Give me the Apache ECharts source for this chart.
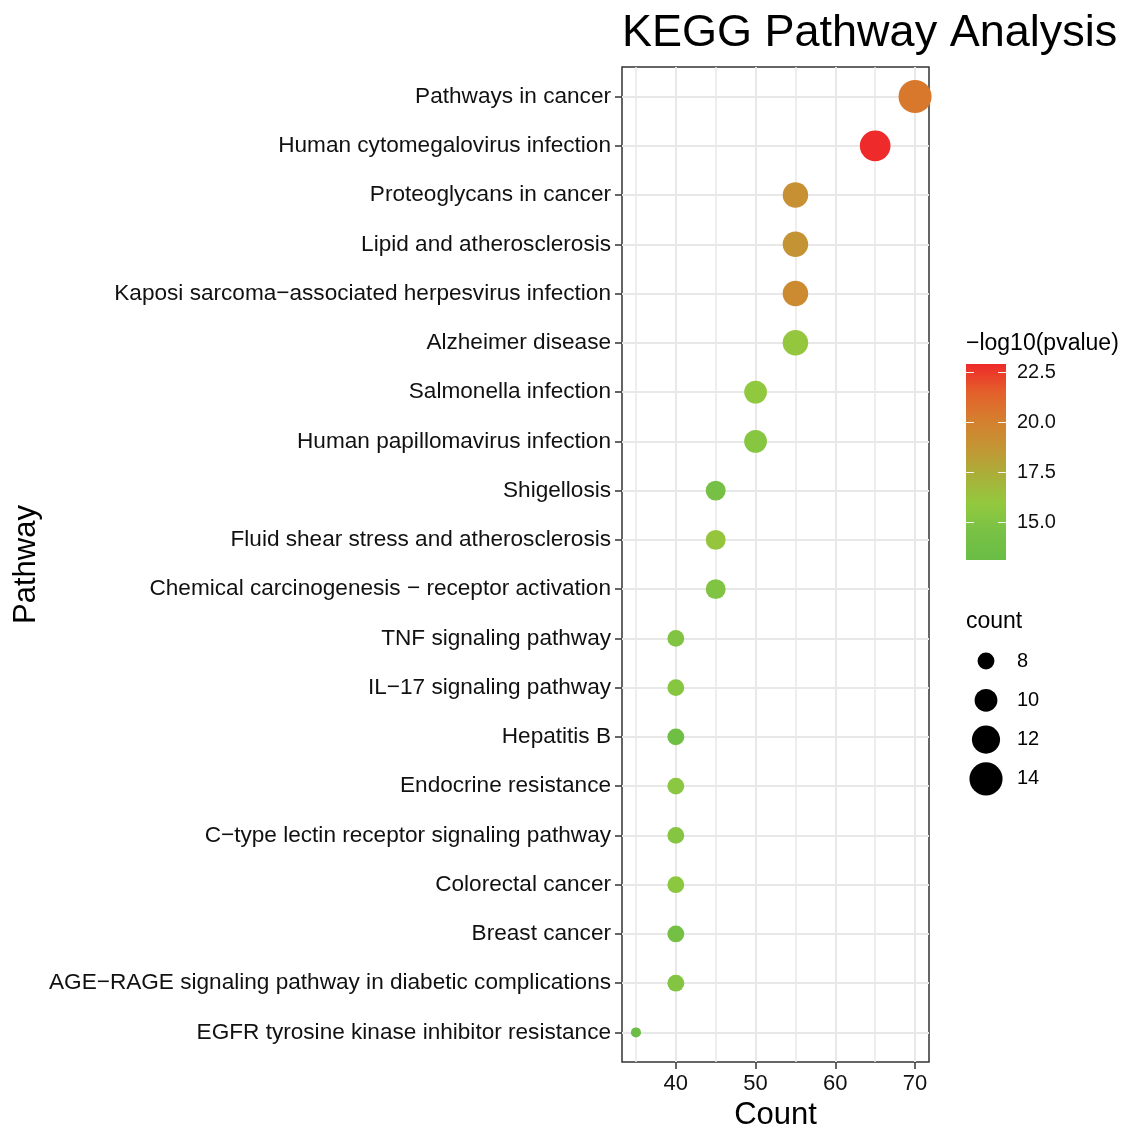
<!DOCTYPE html>
<html>
<head>
<meta charset="utf-8">
<title>KEGG Pathway Analysis</title>
<script src="https://cdn.jsdelivr.net/npm/echarts@6/dist/echarts.min.js"></script>
<style>
  html, body { margin: 0; padding: 0; background: #fff; }
  #chart { width: 1124px; height: 1128px; }
</style>
</head>
<body>
<div id="chart"></div>
<script>
// pathways, top row first
var pathways = [
  'Pathways in cancer',
  'Human cytomegalovirus infection',
  'Proteoglycans in cancer',
  'Lipid and atherosclerosis',
  'Kaposi sarcoma\u2212associated herpesvirus infection',
  'Alzheimer disease',
  'Salmonella infection',
  'Human papillomavirus infection',
  'Shigellosis',
  'Fluid shear stress and atherosclerosis',
  'Chemical carcinogenesis \u2212 receptor activation',
  'TNF signaling pathway',
  'IL\u221217 signaling pathway',
  'Hepatitis B',
  'Endocrine resistance',
  'C\u2212type lectin receptor signaling pathway',
  'Colorectal cancer',
  'Breast cancer',
  'AGE\u2212RAGE signaling pathway in diabetic complications',
  'EGFR tyrosine kinase inhibitor resistance'
];
// x axis "Count"
var counts = [70, 65, 55, 55, 55, 55, 50, 50, 45, 45, 45, 40, 40, 40, 40, 40, 40, 40, 40, 35];
// point size "count"
var geneNum = [14, 13, 11, 11, 11, 11, 10, 10, 9, 9, 9, 8, 8, 8, 8, 8, 8, 8, 8, 6];
// colour -log10(pvalue)
var logP = [20.4, 22.9, 19.0, 18.8, 19.4, 16.0, 15.8, 15.3, 14.2, 16.1, 15.0,
            15.0, 15.3, 13.7, 15.5, 15.2, 15.6, 14.1, 15.1, 13.2];

var countTicks = [40, 50, 60, 70];
var countMinor = [35, 45, 55, 65];
var pTicks = [15, 17.5, 20, 22.5];
var sizeTicks = [8, 10, 12, 14];

var pMin = 13.1, pMax = 22.9;
var palette = ['#6abd45', '#78c145', '#92c93e', '#a9b03a', '#c39634', '#d57f2e', '#e45f2b', '#ee2a2a'];
var FONT = '"Liberation Sans", Arial, Helvetica, sans-serif';

function dotSize(n) {
  return 17.8 * Math.sqrt(n) - 33.5;
}

var rowIdx = pathways.map(function (p, i) { return i; });
var points = pathways.map(function (name, i) {
  return [counts[i], i, geneNum[i], logP[i]];
});

// colour bar gradient, top = max
var stops = palette.map(function (c, i) {
  return { offset: 1 - i / (palette.length - 1), color: c };
});

var graphics = [
  { type: 'text', left: 966, top: 332, style: { text: '\u2212log10(pvalue)', font: '23px ' + FONT, fill: '#000' } },
  { type: 'text', left: 966, top: 610, style: { text: 'count', font: '23px ' + FONT, fill: '#000' } }
];
sizeTicks.forEach(function (v, i) {
  var cy = 661 + i * 39.3;
  graphics.push({ type: 'circle', shape: { cx: 986, cy: cy, r: dotSize(v) / 2 }, style: { fill: '#000' } });
  graphics.push({ type: 'text', x: 1017, y: cy, style: { text: String(v), font: '20px ' + FONT, fill: '#000', verticalAlign: 'middle' } });
});

var chart = echarts.init(document.getElementById('chart'));
chart.setOption({
  backgroundColor: '#fff',
  animation: false,
  title: {
    text: 'KEGG Pathway Analysis',
    left: 617,
    top: 6,
    textStyle: { fontSize: 45, fontWeight: 'normal', color: '#000', fontFamily: FONT }
  },
  grid: [
    { left: 622, top: 67, width: 307, height: 995, show: true, borderColor: '#333', borderWidth: 1.5,
      backgroundColor: '#fff', containLabel: false, outerBoundsMode: 'none' },
    { left: 966, top: 364, width: 40, height: 196, show: true, borderWidth: 0, containLabel: false, outerBoundsMode: 'none',
      backgroundColor: new echarts.graphic.LinearGradient(0, 0, 0, 1, stops.slice().reverse()) }
  ],
  xAxis: [
    {
      type: 'value', gridIndex: 0, min: 33.25, max: 71.75, position: 'bottom',
      name: 'Count', nameLocation: 'middle', nameGap: 32,
      nameTextStyle: { fontSize: 31, color: '#000', fontFamily: FONT },
      axisLine: { show: false, onZero: false },
      axisTick: { show: true, length: 7, customValues: countTicks, lineStyle: { color: '#333', width: 1.5 } },
      axisLabel: { customValues: countTicks, fontSize: 22, color: '#111', margin: 11, fontFamily: FONT },
      splitLine: { show: true, lineStyle: { color: '#e8e8e8', width: 2 } }
    },
    {
      type: 'value', gridIndex: 0, min: 33.25, max: 71.75, position: 'bottom',
      axisLine: { show: false, onZero: false },
      axisTick: { show: false, customValues: countMinor },
      axisLabel: { show: false, customValues: countMinor },
      splitLine: { show: true, lineStyle: { color: '#e8e8e8', width: 1.5 } }
    },
    { type: 'value', gridIndex: 1, min: 0, max: 1, show: false, axisLine: { onZero: false } }
  ],
  yAxis: [
    {
      type: 'value', gridIndex: 0, min: -0.6, max: 19.6, inverse: true, position: 'left',
      name: 'Pathway', nameLocation: 'middle', nameGap: 580, nameRotate: 90,
      nameTextStyle: { fontSize: 31, color: '#000', fontFamily: FONT },
      axisLine: { show: false, onZero: false },
      axisTick: { show: true, length: 7, customValues: rowIdx, lineStyle: { color: '#333', width: 1.5 } },
      axisLabel: {
        customValues: rowIdx,
        formatter: function (v) { return pathways[Math.round(v)]; },
        fontSize: 22.6, color: '#111', margin: 11, fontFamily: FONT
      },
      splitLine: { show: true, lineStyle: { color: '#e8e8e8', width: 2 } }
    },
    {
      type: 'value', gridIndex: 1, min: pMin, max: pMax, position: 'left',
      axisLine: { show: false, onZero: false },
      axisTick: { show: true, inside: true, length: 8, customValues: pTicks, lineStyle: { color: '#f4f4f4', width: 1 } },
      axisLabel: { show: false, customValues: pTicks },
      splitLine: { show: false }
    },
    {
      type: 'value', gridIndex: 1, min: pMin, max: pMax, position: 'right',
      axisLine: { show: false, onZero: false },
      axisTick: { show: true, inside: true, length: 8, customValues: pTicks, lineStyle: { color: '#f4f4f4', width: 1 } },
      axisLabel: {
        customValues: pTicks, margin: 11, fontSize: 20, color: '#111', fontFamily: FONT,
        formatter: function (v) { return v.toFixed(1); }
      },
      splitLine: { show: false }
    }
  ],
  visualMap: {
    show: false, type: 'continuous', seriesIndex: 0, dimension: 3,
    min: pMin, max: pMax,
    inRange: { color: palette }
  },
  graphic: graphics,
  series: [{
    type: 'scatter',
    xAxisIndex: 0,
    yAxisIndex: 0,
    data: points,
    symbolSize: function (val) { return dotSize(val[2]); },
    itemStyle: { opacity: 1 }
  }]
});
</script>
</body>
</html>
